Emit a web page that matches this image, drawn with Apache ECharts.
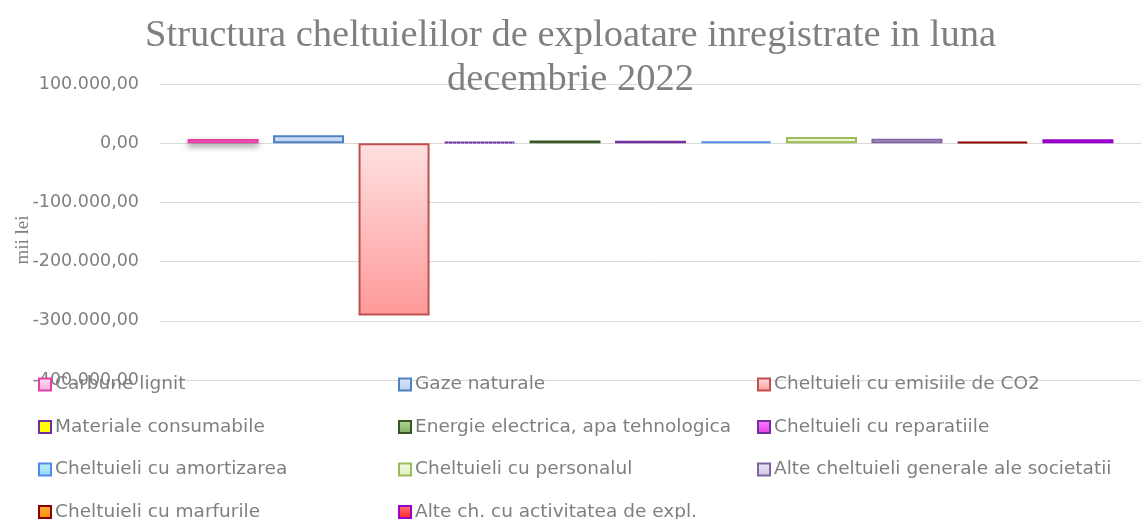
<!DOCTYPE html>
<html>
<head>
<meta charset="utf-8">
<script src="https://cdn.jsdelivr.net/npm/echarts@6/dist/echarts.min.js"></script>
<style>html,body{margin:0;padding:0;background:#fff;}#c{width:1141px;height:519px;}</style>
</head>
<body>
<div id="c"></div>
<script>
// ---- data ----
const categories = [''];
const seriesNames = [
  'Carbune lignit', 'Gaze naturale', 'Cheltuieli cu emisiile de CO2',
  'Materiale consumabile', 'Energie electrica, apa tehnologica', 'Cheltuieli cu reparatiile',
  'Cheltuieli cu amortizarea', 'Cheltuieli cu personalul', 'Alte cheltuieli generale ale societatii',
  'Cheltuieli cu marfurile', 'Alte ch. cu activitatea de expl.'
];
const seriesValues = [7000, 13500, -291000, 2000, 4500, 4000, 3000, 10500, 7500, 2500, 6500];
const yTicks = { min: -400000, max: 100000, interval: 100000 };

// ---- styles ----
const borderColors = ['#e83fa6','#4f81bd','#c0504d','#7030a0','#375623','#7030a0','#5588e8','#9bbb59','#8064a2','#8b0000','#9900cc'];
const fillTop =    ['#ffe8f5','#dce8fb','#ffe1e1','#ffff00','#b5d79a','#ff80ff','#c4f2fc','#f3fbe6','#efe9f6','#ffb040','#ff7a7a'];
const fillBottom = ['#f6a9d4','#b6cdf0','#ff9999','#ffff00','#7faa5f','#e040e0','#8ad9f1','#dcefc0','#d0c4e2','#ff8c00','#ff2020'];
const legendCols = [
  [0, 3, 6, 9],
  [1, 4, 7, 10],
  [2, 5, 8]
];
const legendLeft = [38, 398, 757];

function fmt(v) {
  const neg = v < 0;
  const s = Math.abs(Math.round(v)).toString().replace(/\B(?=(\d{3})+(?!\d))/g, '.');
  return (neg ? '-' : '') + s + ',00';
}

const series = seriesNames.map((name, i) => ({
  name: name,
  type: 'bar',
  data: [seriesValues[i]],
  barWidth: 71,
  barGap: '20.4%',
  itemStyle: {
    color: new echarts.graphic.LinearGradient(0, 0, 0, 1, [
      { offset: 0, color: fillTop[i] },
      { offset: 1, color: fillBottom[i] }
    ]),
    borderColor: borderColors[i],
    borderWidth: 2,
    borderType: i === 3 ? 'dotted' : 'solid',
    shadowBlur: i === 0 ? 6 : 0,
    shadowOffsetY: i === 0 ? 3 : 0,
    shadowColor: i === 0 ? 'rgba(0,0,0,0.35)' : 'transparent'
  }
}));

const legends = legendCols.map((col, c) => ({
  orient: 'vertical',
  left: legendLeft[c],
  top: 375,
  height: 160,
  padding: 0,
  itemWidth: 12,
  itemHeight: 12,
  itemGap: 23.5,
  icon: 'rect',
  selectedMode: false,
  data: col.map(i => seriesNames[i]),
  textStyle: { fontFamily: 'DejaVu Sans', fontSize: 18.5, color: '#7f7f7f', lineHeight: 18, padding: [0, 0, 0, -1] }
}));

const chart = echarts.init(document.getElementById('c'), null, { renderer: 'canvas' });
chart.setOption({
  animation: false,
  backgroundColor: '#ffffff',
  title: {
    text: 'Structura cheltuielilor de exploatare inregistrate in luna\ndecembrie 2022',
    left: 'center',
    top: 9,
    textStyle: { fontFamily: 'Liberation Serif', fontSize: 38.5, fontWeight: 'normal', color: '#7f7f7f', lineHeight: 44 }
  },
  legend: legends,
  grid: { left: 160, width: 990, top: 84, height: 296, containLabel: false },
  xAxis: {
    type: 'category',
    data: categories,
    axisLine: { show: false },
    axisTick: { show: false },
    axisLabel: { show: false },
    splitLine: { show: false }
  },
  yAxis: {
    type: 'value',
    min: yTicks.min,
    max: yTicks.max,
    interval: yTicks.interval,
    axisLine: { show: false },
    axisTick: { show: false },
    splitLine: { lineStyle: { color: '#d9d9d9', width: 1 } },
    axisLabel: {
      formatter: fmt,
      margin: 21,
      fontFamily: 'DejaVu Sans',
      fontSize: 17.5,
      color: '#7f7f7f'
    }
  },
  graphic: [{
    type: 'text',
    x: 23,
    y: 240,
    rotation: Math.PI / 2,
    style: {
      text: 'mii lei',
      align: 'center',
      verticalAlign: 'middle',
      font: '19px "Liberation Serif"',
      fill: '#7f7f7f'
    }
  }],
  series: series
});
</script>
</body>
</html>
